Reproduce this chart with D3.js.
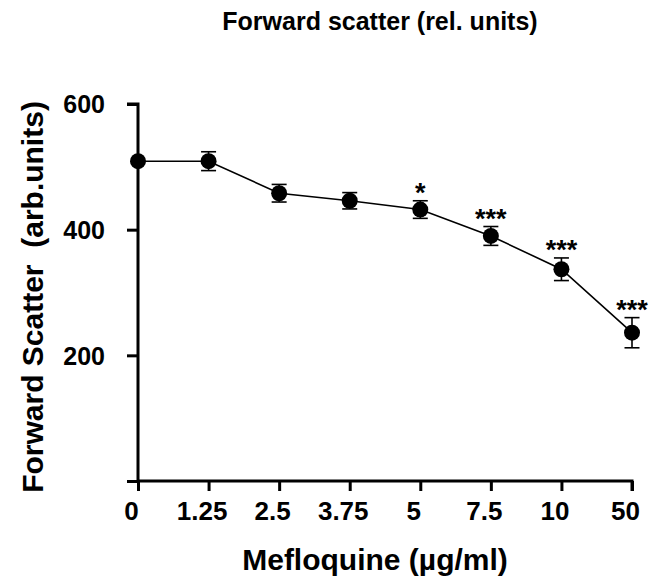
<!DOCTYPE html>
<html>
<head>
<meta charset="utf-8">
<script src="https://cdn.jsdelivr.net/npm/d3@7"></script>
<style>
  body { margin: 0; background: #fff; }
  text { font-family: "Liberation Sans", Arial, sans-serif; font-weight: bold; fill: #000; }
</style>
</head>
<body>
<svg id="svg" width="652" height="579"></svg>
<script>
// data
const doses = ["0", "1.25", "2.5", "3.75", "5", "7.5", "10", "50"];
const means = [509, 509, 458, 446, 432, 390, 337, 236];
const errs  = [0, 15, 14, 13, 14, 15, 18, 24];
const stars = ["", "", "", "", "*", "***", "***", "***"];
const yTicks = [0, 200, 400, 600];

const svg = d3.select("#svg");
const x0 = 138, x1 = 632;
const yTop = 104, yBot = 481;

const x = d3.scalePoint().domain(doses).range([x0, x1]);
const y = d3.scaleLinear().domain([0, 600]).range([yBot, yTop]);

// axes
const yAxis = svg.append("g")
  .attr("transform", `translate(${x0},0)`)
  .call(d3.axisLeft(y).tickValues(yTicks).tickSize(11).tickPadding(22)
    .tickFormat(d => d === 0 ? "" : d));
const xAxis = svg.append("g")
  .attr("transform", `translate(0,${yBot})`)
  .call(d3.axisBottom(x).tickSize(10).tickPadding(11));

[yAxis, xAxis].forEach(a => {
  a.select(".domain").attr("stroke", "#000").attr("stroke-width", 3);
  a.selectAll(".tick line").attr("stroke", "#000").attr("stroke-width", 3);
  a.selectAll(".tick text").style("font-size", "25px");
});
yAxis.selectAll(".tick text").attr("text-anchor", "end").attr("dy", "0.35em");
// the axes have no outer end ticks past the data range
yAxis.select(".domain").attr("d", `M-11,${yTop}H0V${yBot}`);
xAxis.select(".domain").attr("d", `M${x0},0H${x1}V10`);
xAxis.selectAll(".tick text").attr("dx", -7).style("font-size", "26px");

// error bars
const eb = svg.append("g").attr("stroke", "#000").attr("stroke-width", 1.6);
doses.forEach((d, i) => {
  if (!errs[i]) return;
  const cx = x(d);
  const lo = y(means[i] - errs[i]), hi = y(means[i] + errs[i]);
  eb.append("line").attr("x1", cx).attr("x2", cx).attr("y1", lo).attr("y2", hi);
  eb.append("line").attr("x1", cx - 7.5).attr("x2", cx + 7.5).attr("y1", lo).attr("y2", lo);
  eb.append("line").attr("x1", cx - 7.5).attr("x2", cx + 7.5).attr("y1", hi).attr("y2", hi);
});

// connecting line
svg.append("path")
  .datum(means)
  .attr("fill", "none")
  .attr("stroke", "#000")
  .attr("stroke-width", 1.6)
  .attr("d", d3.line().x((d, i) => x(doses[i])).y(d => y(d)));

// points
svg.selectAll("circle.pt")
  .data(means)
  .enter().append("circle")
  .attr("cx", (d, i) => x(doses[i]))
  .attr("cy", d => y(d))
  .attr("r", 8)
  .attr("fill", "#000");

// significance stars
svg.selectAll("text.star")
  .data(stars)
  .enter().append("text")
  .attr("x", (d, i) => x(doses[i]))
  .attr("y", (d, i) => y(means[i] + errs[i]) + 1)
  .attr("text-anchor", "middle")
  .style("font-size", "27px")
  .text(d => d);

// titles
svg.append("text")
  .attr("x", 380).attr("y", 30)
  .attr("text-anchor", "middle")
  .style("font-size", "25px")
  .text("Forward scatter (rel. units)");

svg.append("text")
  .attr("x", 375).attr("y", 570)
  .attr("text-anchor", "middle")
  .style("font-size", "30px")
  .text("Mefloquine (µg/ml)");

svg.append("text")
  .attr("transform", "translate(43,297) rotate(-90)")
  .attr("text-anchor", "middle")
  .style("font-size", "30px")
  .attr("xml:space", "preserve")
  .style("white-space", "pre")
  .text("Forward Scatter  (arb.units)");
</script>
</body>
</html>
